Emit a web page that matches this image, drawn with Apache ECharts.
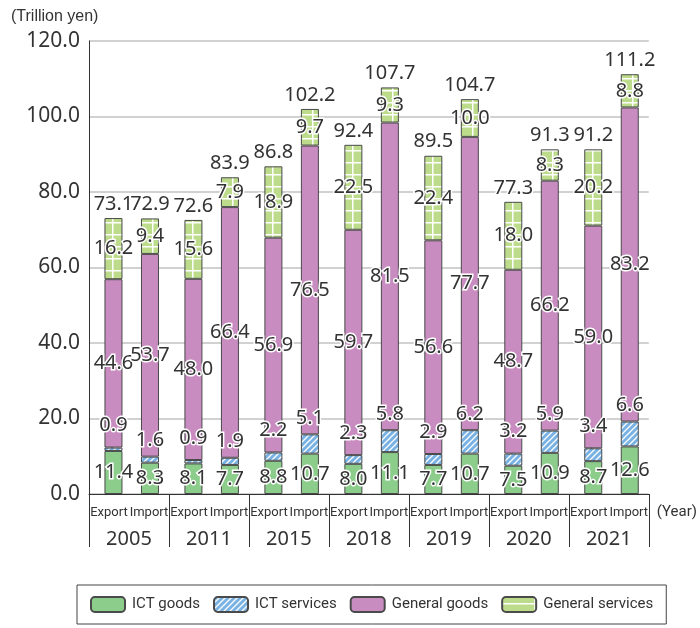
<!DOCTYPE html>
<html>
<head>
<meta charset="utf-8">
<title>ICT and general trade</title>
<script src="https://cdn.jsdelivr.net/npm/echarts@6/dist/echarts.min.js"></script>
<style>
  html, body { margin: 0; padding: 0; background: #fff; }
  #chart { width: 700px; height: 628px; }
</style>
</head>
<body>
<div id="chart"></div>
<script>
// Categories
const years = ['2005', '2011', '2015', '2018', '2019', '2020', '2021'];
const flows = ['Export', 'Import'];
const seriesNames = ['ICT goods', 'ICT services', 'General goods', 'General services'];

// Exports (trillion yen)
const exportIctGoods        = [11.4, 8.1, 8.8, 8.0, 7.7, 7.5, 8.7];
const exportIctServices     = [0.9, 0.9, 2.2, 2.3, 2.9, 3.2, 3.4];
const exportGeneralGoods    = [44.6, 48.0, 56.9, 59.7, 56.6, 48.7, 59.0];
const exportGeneralServices = [16.2, 15.6, 18.9, 22.5, 22.4, 18.0, 20.2];
const exportTotal           = [73.1, 72.6, 86.8, 92.4, 89.5, 77.3, 91.2];

// Imports (trillion yen)
const importIctGoods        = [8.3, 7.7, 10.7, 11.1, 10.7, 10.9, 12.6];
const importIctServices     = [1.6, 1.9, 5.1, 5.8, 6.2, 5.9, 6.6];
const importGeneralGoods    = [53.7, 66.4, 76.5, 81.5, 77.7, 66.2, 83.2];
const importGeneralServices = [9.4, 7.9, 9.7, 9.3, 10.0, 8.3, 8.8];
const importTotal           = [72.9, 83.9, 102.2, 107.7, 104.7, 91.3, 111.2];

// Value axis ticks
const yMin = 0, yMax = 120, yStep = 20;

const SMALL = "Roboto, 'Noto Sans', sans-serif";
const BASE = "'Noto Sans', 'Liberation Sans', sans-serif";
const INK = '#333';

// Fill patterns
function hatchPattern() {
  const c = document.createElement('canvas');
  c.width = 6; c.height = 6;
  const g = c.getContext('2d');
  g.fillStyle = '#78b2e4';
  g.fillRect(0, 0, 6, 6);
  g.strokeStyle = '#ffffff';
  g.lineWidth = 1.3;
  g.beginPath();
  g.moveTo(-1, 7); g.lineTo(7, -1);
  g.moveTo(-1, 1); g.lineTo(1, -1);
  g.moveTo(5, 7); g.lineTo(7, 5);
  g.stroke();
  return c;
}
function gridPattern() {
  const c = document.createElement('canvas');
  c.width = 40; c.height = 12;
  const g = c.getContext('2d');
  g.fillStyle = '#bcdc8b';
  g.fillRect(0, 0, 40, 12);
  g.fillStyle = '#ffffff';
  g.fillRect(32, 0, 1.5, 12);
  g.fillRect(0, 6, 40, 1.5);
  return c;
}

const fills = [
  '#8ccd8c',
  { image: hatchPattern(), repeat: 'repeat' },
  '#c88cc0',
  { image: gridPattern(), repeat: 'repeat' }
];

const valueText = {
  color: INK,
  fontSize: 20,
  fontFamily: BASE,
  textBorderColor: '#fff',
  textBorderWidth: 3
};

const BAR_W = 18;
const BAR_GAP = '102.8%';

function stackSeries(stackId, parts, totals, serviceDist) {
  const out = parts.map((data, k) => {
    const isService = k === 1;
    return {
      name: seriesNames[k],
      type: 'bar',
      stack: stackId,
      barWidth: BAR_W,
      barGap: BAR_GAP,
      data: data,
      itemStyle: { color: fills[k], borderColor: '#4a4a4a', borderWidth: 1 },
      label: Object.assign({
        show: true,
        position: isService ? 'top' : 'inside',
        distance: isService ? serviceDist : 5,
        formatter: p => p.value.toFixed(1)
      }, valueText),
      labelLine: isService ? { show: true, lineStyle: { color: INK, width: 1 } } : { show: false },
      emphasis: { disabled: true }
    };
  });
  // Stack total written just above each column
  out.push({
    name: stackId + ' total',
    type: 'bar',
    stack: stackId,
    barWidth: BAR_W,
    barGap: BAR_GAP,
    data: totals.map(() => 0),
    itemStyle: { color: 'rgba(0,0,0,0)', borderWidth: 0 },
    label: Object.assign({
      show: true,
      position: 'top',
      distance: 4,
      formatter: p => totals[p.dataIndex].toFixed(1)
    }, valueText),
    emphasis: { disabled: true },
    silent: true
  });
  return out;
}

const series = [
  // narrow empty slot that nudges the export/import pair inside each year band
  {
    name: 'slot',
    type: 'bar',
    stack: 'slot',
    barWidth: 2.7,
    barGap: BAR_GAP,
    data: years.map(() => '-'),
    silent: true
  }
].concat(
  stackSeries('export',
    [exportIctGoods, exportIctServices, exportGeneralGoods, exportGeneralServices],
    exportTotal, 12),
  stackSeries('import',
    [importIctGoods, importIctServices, importGeneralGoods, importGeneralServices],
    importTotal, 6)
);

const flowCategories = [];
years.forEach(() => flows.forEach(f => flowCategories.push(f)));

const chart = echarts.init(document.getElementById('chart'), null, { renderer: 'canvas' });
chart.setOption({
  animation: false,
  backgroundColor: '#fff',
  title: {
    text: '(Trillion yen)',
    left: 6,
    top: 4,
    textStyle: { color: INK, fontSize: 16, fontWeight: 'normal', fontFamily: "'Liberation Sans', sans-serif" }
  },
  grid: { left: 89, right: 51, top: 41, bottom: 134, containLabel: false },
  legend: {
    data: seriesNames,
    left: 77,
    top: 585,
    padding: [11, 13, 11, 13],
    borderColor: '#444',
    borderWidth: 1,
    itemWidth: 34,
    itemHeight: 15,
    itemGap: 13,
    selectedMode: false,
    textStyle: { color: INK, fontSize: 15, fontFamily: SMALL, padding: [0, 0, 0, 2] }
  },
  xAxis: [
    {
      type: 'category',
      data: years,
      position: 'bottom',
      axisLine: { show: true, lineStyle: { color: INK, width: 1 } },
      axisTick: { show: true, length: 53, interval: 0, alignWithLabel: false, lineStyle: { color: INK, width: 1 } },
      axisLabel: { color: INK, fontSize: 20, fontFamily: BASE, margin: 35, interval: 0 },
      splitLine: { show: false }
    },
    {
      type: 'category',
      data: flowCategories,
      position: 'bottom',
      axisLine: { show: false },
      axisTick: { show: false },
      axisLabel: { color: INK, fontSize: 13, fontFamily: SMALL, margin: 12, interval: 0 },
      splitLine: { show: false },
      name: '(Year)',
      nameLocation: 'end',
      nameGap: 8,
      nameTextStyle: { color: INK, fontSize: 15, fontFamily: SMALL, verticalAlign: 'top', padding: [11, 0, 0, 0] }
    }
  ],
  yAxis: {
    type: 'value',
    min: yMin,
    max: yMax,
    interval: yStep,
    axisLine: { show: true, lineStyle: { color: INK, width: 1 } },
    axisTick: { show: false },
    axisLabel: { color: INK, fontSize: 21, fontFamily: BASE, margin: 9, formatter: v => v.toFixed(1) },
    splitLine: { show: true, lineStyle: { color: '#c2c2c2', width: 1.5 } }
  },
  series: series
});
</script>
</body>
</html>
